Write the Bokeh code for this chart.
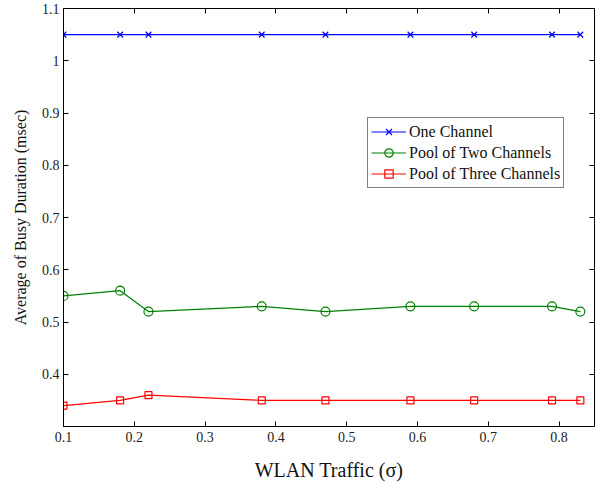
from bokeh.plotting import figure
from bokeh.models import LinearAxis, Range1d, FixedTicker, Legend, LegendItem
from bokeh.embed import file_html
from bokeh.resources import INLINE

traffic = [0.1, 0.18, 0.22, 0.38, 0.47, 0.59, 0.68, 0.79, 0.83]
one_channel = [1.05, 1.05, 1.05, 1.05, 1.05, 1.05, 1.05, 1.05, 1.05]
pool_two = [0.55, 0.56, 0.52, 0.53, 0.52, 0.53, 0.53, 0.53, 0.52]
pool_three = [0.34, 0.35, 0.36, 0.35, 0.35, 0.35, 0.35, 0.35, 0.35]
x_ticks = [0.1, 0.2, 0.3, 0.4, 0.5, 0.6, 0.7, 0.8]
y_ticks = [0.4, 0.5, 0.6, 0.7, 0.8, 0.9, 1.0, 1.1]

FONT = "Liberation Serif"

p = figure(width=602, height=483, output_backend="svg", toolbar_location=None,
           x_range=Range1d(0.1, 0.85), y_range=Range1d(0.3, 1.1),
           min_border_left=63, min_border_right=8, min_border_top=8, min_border_bottom=57)
p.grid.visible = False
p.outline_line_color = "black"
p.outline_line_width = 1
p.background_fill_color = "white"
p.border_fill_color = "white"

for ax in (p.xaxis[0], p.yaxis[0]):
    ax.major_tick_in = 5
    ax.major_tick_out = 0
    ax.minor_tick_line_color = None
    ax.major_label_text_font = FONT
    ax.major_label_text_font_size = "14px"
    ax.major_label_text_color = "#222222"
    ax.axis_label_text_font = FONT
    ax.axis_label_text_font_style = "normal"
    ax.axis_label_text_color = "#111111"
    ax.axis_line_color = "black"

p.xaxis[0].ticker = FixedTicker(ticks=x_ticks)
p.yaxis[0].ticker = FixedTicker(ticks=y_ticks)
p.yaxis[0].major_label_overrides = {1.0: "1"}
p.xaxis[0].axis_label = "WLAN Traffic (\u03c3)"
p.xaxis[0].axis_label_text_font_size = "20px"
p.xaxis[0].axis_label_standoff = 14
p.xaxis[0].major_label_standoff = 5
p.yaxis[0].axis_label = "Average of Busy Duration (msec)"
p.yaxis[0].axis_label_text_font_size = "16px"
p.yaxis[0].axis_label_standoff = 10
p.yaxis[0].major_label_standoff = 4

top = LinearAxis(ticker=FixedTicker(ticks=x_ticks), major_tick_in=5, major_tick_out=0,
                 minor_tick_line_color=None,
                 major_label_overrides={t: "" for t in x_ticks},
                 major_label_standoff=0, axis_line_color=None)
right = LinearAxis(ticker=FixedTicker(ticks=y_ticks), major_tick_in=5, major_tick_out=0,
                   minor_tick_line_color=None,
                   major_label_overrides={t: "" for t in y_ticks},
                   major_label_standoff=0, axis_line_color=None)
p.add_layout(top, "above")
p.add_layout(right, "right")

l1 = p.line(traffic, one_channel, line_color="#0000ff", line_width=1.2)
m1 = p.scatter(traffic, one_channel, marker="x", size=8, line_color="#0000ff", line_width=1.2)
l2 = p.line(traffic, pool_two, line_color="#008000", line_width=1.2)
m2 = p.scatter(traffic, pool_two, marker="circle", size=9, line_color="#008000",
               fill_color=None, line_width=1.2)
l3 = p.line(traffic, pool_three, line_color="#ff0000", line_width=1.2)
m3 = p.scatter(traffic, pool_three, marker="square", size=7, line_color="#ff0000",
               fill_color=None, line_width=1.2)

legend = Legend(items=[
    LegendItem(label="One Channel", renderers=[l1, m1]),
    LegendItem(label="Pool of Two Channels", renderers=[l2, m2]),
    LegendItem(label="Pool of Three Channels", renderers=[l3, m3]),
], location=(304, 238))
legend.border_line_color = "black"
legend.border_line_width = 1
legend.background_fill_color = "white"
legend.background_fill_alpha = 1
legend.label_text_font = FONT
legend.label_text_font_size = "16px"
legend.label_text_color = "#111111"
legend.glyph_width = 35
legend.glyph_height = 21
legend.label_height = 21
legend.label_standoff = 3
legend.spacing = 0
legend.padding = 3
legend.margin = 0
p.add_layout(legend, "center")

open("out.html", "w").write(file_html(p, INLINE))
